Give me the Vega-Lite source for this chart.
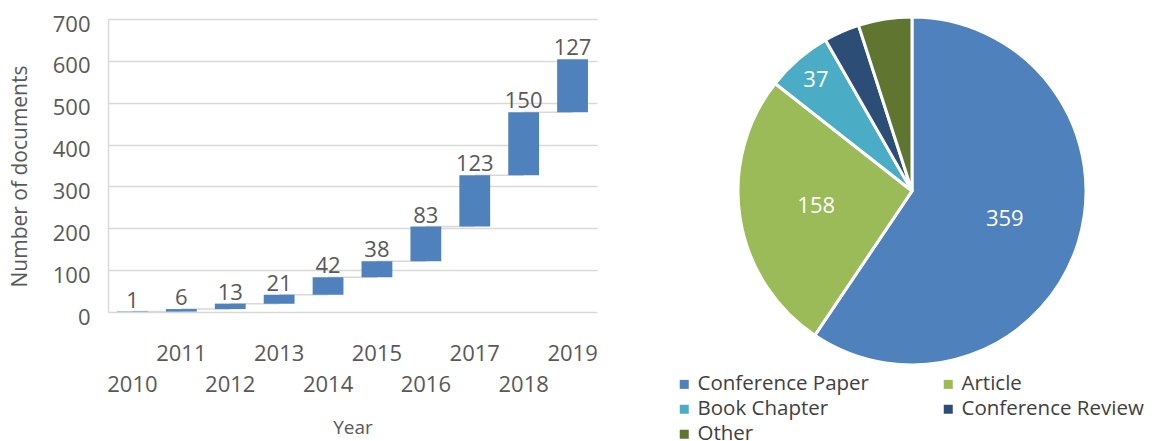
{
  "$schema": "https://vega.github.io/schema/vega-lite/v6.json",
  "autosize": {"type": "pad"},
  "padding": {"left": 9, "top": 11, "right": 0, "bottom": 0},
  "background": "white",
  "spacing": 143,
  "bounds": "flush",
  "config": {
    "view": {"stroke": null},
    "font": "Open Sans",
    "axisY": {
      "domain": true, "domainColor": "#d9d9d9", "domainWidth": 1.5,
      "ticks": false, "grid": true, "gridColor": "#d9d9d9", "gridWidth": 1.5,
      "labelFontSize": 22, "labelColor": "#595959", "labelPadding": 18, "labelOffset": 5,
      "values": [0, 100, 200, 300, 400, 500, 600, 700],
      "titleFontSize": 21, "titleColor": "#595959", "titleFontWeight": "normal",
      "titleX": -88, "titleY": 157, "titleAngle": -90, "titleAlign": "center", "titleBaseline": "middle"
    },
    "axisX": {
      "domain": false, "ticks": false, "grid": false, "labelAngle": 0,
      "labelFontSize": 22, "labelColor": "#595959", "labelPadding": 31,
      "labelBaseline": "top", "labelLineHeight": 31, "labelOverlap": false,
      "labelExpr": "datum.value % 2 == 1 ? [datum.label] : ['', datum.label]",
      "titleFontSize": 19, "titleColor": "#595959", "titleFontWeight": "normal",
      "titleY": 115, "titleBaseline": "middle"
    },
    "legend": {
      "orient": "none", "legendX": 566, "legendY": 355, "columns": 2, "direction": "horizontal",
      "symbolType": "square", "symbolSize": 81, "symbolStrokeWidth": 0, "symbolOpacity": 1,
      "labelFontSize": 20.5, "labelColor": "#404040", "labelFont": "Open Sans", "labelLimit": 300,
      "columnPadding": 69, "rowPadding": 4, "labelOffset": 3
    }
  },
  "hconcat": [
    {
      "width": 489,
      "height": 293,
      "data": {"values": [
        {"year": 2010, "n": 1, "start": 0, "end": 1, "next": 2011},
        {"year": 2011, "n": 6, "start": 1, "end": 7, "next": 2012},
        {"year": 2012, "n": 13, "start": 7, "end": 20, "next": 2013},
        {"year": 2013, "n": 21, "start": 20, "end": 41, "next": 2014},
        {"year": 2014, "n": 42, "start": 41, "end": 83, "next": 2015},
        {"year": 2015, "n": 38, "start": 83, "end": 121, "next": 2016},
        {"year": 2016, "n": 83, "start": 121, "end": 204, "next": 2017},
        {"year": 2017, "n": 123, "start": 204, "end": 327, "next": 2018},
        {"year": 2018, "n": 150, "start": 327, "end": 477, "next": 2019},
        {"year": 2019, "n": 127, "start": 477, "end": 604, "next": null}
      ]},
      "encoding": {
        "x": {"field": "year", "type": "ordinal", "title": "Year",
              "scale": {"paddingInner": 0, "paddingOuter": 0}}
      },
      "layer": [
        {
          "transform": [{"filter": "datum.next != null"}],
          "mark": {"type": "rule", "color": "#d9d9d9", "strokeWidth": 1.5},
          "encoding": {
            "x2": {"field": "next"},
            "y": {"field": "end", "type": "quantitative", "title": "Number of documents", "scale": {"domain": [0, 700]}}
          }
        },
        {
          "mark": {"type": "bar", "color": "#4f81bd", "width": {"band": 0.63}},
          "encoding": {
            "y": {"field": "start", "type": "quantitative", "title": "Number of documents", "scale": {"domain": [0, 700]}},
            "y2": {"field": "end"}
          }
        },
        {
          "mark": {"type": "text", "baseline": "alphabetic", "dy": -4, "fontSize": 22, "color": "#595959"},
          "encoding": {
            "y": {"field": "end", "type": "quantitative", "title": "Number of documents", "scale": {"domain": [0, 700]}},
            "text": {"field": "n"}
          }
        }
      ]
    },
    {
      "width": 344,
      "height": 344,
      "data": {"values": [
        {"type": "Conference Paper", "n": 359},
        {"type": "Article", "n": 158},
        {"type": "Book Chapter", "n": 37},
        {"type": "Conference Review", "n": 20},
        {"type": "Other", "n": 30}
      ]},
      "transform": [{"window": [{"op": "row_number", "as": "idx"}]}],
      "encoding": {
        "theta": {"field": "n", "type": "quantitative", "stack": true},
        "order": {"field": "idx", "type": "quantitative", "sort": "ascending"},
        "color": {
          "field": "type", "type": "nominal", "title": null,
          "sort": ["Conference Paper", "Article", "Book Chapter", "Conference Review", "Other"],
          "scale": {
            "domain": ["Conference Paper", "Article", "Book Chapter", "Conference Review", "Other"],
            "range": ["#4f81bd", "#9bbb59", "#4bacc6", "#2c4d75", "#5f7530"]
          }
        }
      },
      "layer": [
        {"mark": {"type": "arc", "outerRadius": 174, "stroke": "white", "strokeWidth": 3}},
        {
          "mark": {"type": "text", "radius": 97, "fontSize": 22, "font": "Open Sans"},
          "encoding": {
            "fill": {"value": "white"},
            "text": {"condition": {"test": "datum.n >= 100", "field": "n"}, "value": ""}
          }
        },
        {
          "mark": {"type": "text", "radius": 147, "fontSize": 22, "font": "Open Sans"},
          "encoding": {
            "fill": {"value": "white"},
            "text": {"condition": {"test": "datum.type == 'Book Chapter'", "field": "n"}, "value": ""}
          }
        }
      ]
    }
  ]
}
